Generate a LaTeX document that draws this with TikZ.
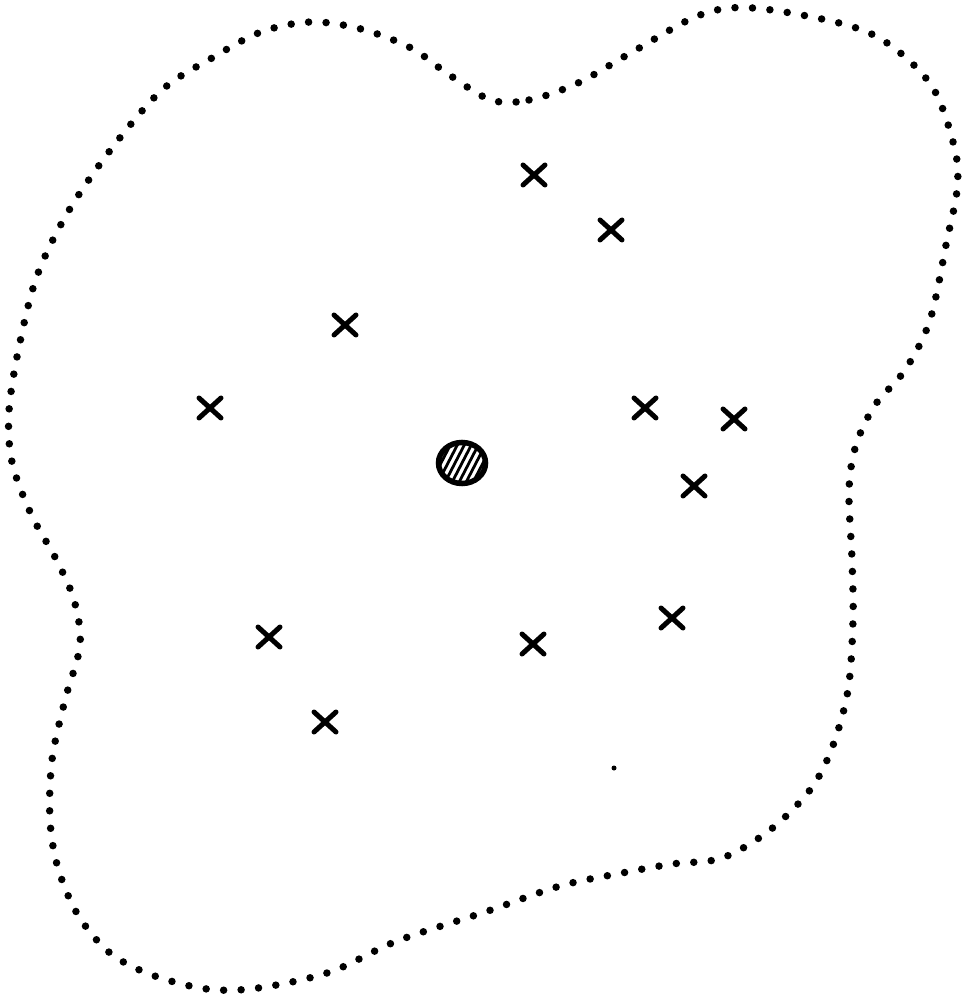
\documentclass[tikz,border=0pt]{standalone}
\begin{document}
\begin{tikzpicture}[x=0.01cm, y=-0.01cm,
  borde/.style={line width=0.075cm, line cap=round, dash pattern=on 0pt off 0.175cm},
  marca/.style={line width=0.05cm, line cap=round}]
  \useasboundingbox (0,0) rectangle (971,1001);
  % contorno punteado
  \draw[borde] plot[smooth cycle, tension=0.55] coordinates {
    (491,100) (529,100) (578,83) (634,51) (700,15) (753,8) (843,24) (890,45)
    (933,88) (955,150) (957,190) (947,240) (930,320) (905,370) (875,405)
    (856,445) (849,490) (852,560) (853,620) (848,690) (832,748) (810,790)
    (770,830) (722,858) (672,864) (622,873) (560,886) (485,912) (397,941)
    (330,972) (258,988) (207,989) (152,975) (110,953) (78,915) (58,868)
    (50,820) (52,760) (65,700) (80,645) (74,600) (56,559) (31,514) (12,462)
    (9,411) (19,347) (37,276) (68,212) (112,148) (162,90) (212,58) (261,32)
    (311,22) (361,29) (411,48) (448,74)};
  % cruces
  \foreach \x/\y in {534/175, 611/230, 345/325, 210/408, 645/408, 734/419,
                     694/486, 269/637, 533/644, 672/618, 325/722}
    \draw[marca] (\x-11,\y-10) -- (\x+11,\y+10) (\x-11,\y+10) -- (\x+11,\y-10);
  % circulo rayado
  \begin{scope}
    \clip (462,463) ellipse (0.235cm and 0.205cm);
    \foreach \i in {-6,...,6}
      \draw[line width=0.028cm] (462+\i*7-15,492) -- (462+\i*7+15,434);
  \end{scope}
  \draw[line width=0.055cm] (462,463) ellipse (0.235cm and 0.205cm);
  \fill (614,768) circle (0.025cm);
\end{tikzpicture}
\end{document}
